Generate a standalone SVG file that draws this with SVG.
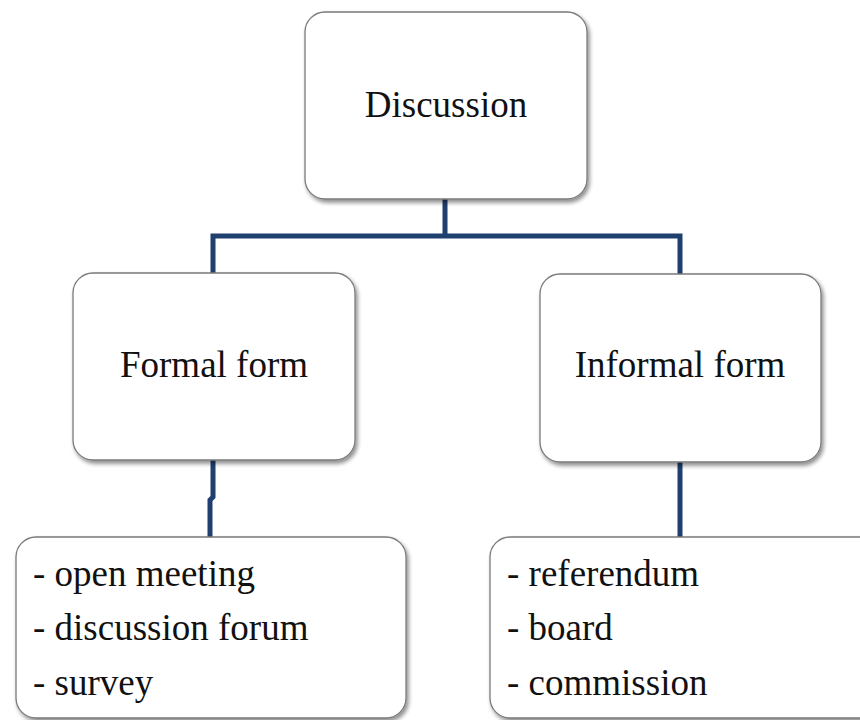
<svg xmlns="http://www.w3.org/2000/svg" width="860" height="720" viewBox="0 0 860 720">
<defs>
<filter id="sh" x="-10%" y="-10%" width="125%" height="125%">
<feGaussianBlur in="SourceAlpha" stdDeviation="2"/>
<feOffset dx="2" dy="3" result="b"/>
<feComponentTransfer><feFuncA type="linear" slope="0.45"/></feComponentTransfer>
<feMerge><feMergeNode/><feMergeNode in="SourceGraphic"/></feMerge>
</filter>
<style>
.box{fill:#ffffff;stroke:#7a7a7a;stroke-width:1.3;filter:url(#sh)}
.t{font-family:'Liberation Serif','Times New Roman','DejaVu Serif',serif;font-size:37px;fill:#111111}
.c{fill:none;stroke:#1f3f6e;stroke-width:5;stroke-linejoin:miter}
</style>
</defs>
<rect width="860" height="720" fill="#ffffff"/>
<g id="connectors">
<path class="c" d="M445,199 V236 M213,273 V236 H680 V274"/>
<path class="c" d="M213,460 V497 L210,500 V537"/>
<path class="c" d="M680,462 V537"/>
</g>
<g id="node-discussion">
<rect class="box" x="305" y="12" width="282" height="187" rx="20"/>
<text class="t" font-family="Liberation Serif, serif" x="446" y="117" text-anchor="middle">Discussion</text>
</g>
<g id="node-formal">
<rect class="box" x="73" y="273" width="282" height="187" rx="20"/>
<text class="t" font-family="Liberation Serif, serif" x="214" y="377" text-anchor="middle">Formal form</text>
</g>
<g id="node-informal">
<rect class="box" x="540" y="274" width="281" height="188" rx="20"/>
<text class="t" font-family="Liberation Serif, serif" x="680" y="377" text-anchor="middle">Informal form</text>
</g>
<g id="node-formal-list">
<rect class="box" x="16" y="537" width="390" height="181" rx="20"/>
<text class="t" font-family="Liberation Serif, serif" x="33" y="586">- open meeting</text>
<text class="t" font-family="Liberation Serif, serif" x="33" y="640">- discussion forum</text>
<text class="t" font-family="Liberation Serif, serif" x="33" y="695">- survey</text>
</g>
<g id="node-informal-list">
<rect class="box" x="490" y="537" width="390" height="181" rx="20"/>
<text class="t" font-family="Liberation Serif, serif" x="507" y="586">- referendum</text>
<text class="t" font-family="Liberation Serif, serif" x="507" y="640">- board</text>
<text class="t" font-family="Liberation Serif, serif" x="507" y="695">- commission</text>
</g>
</svg>
